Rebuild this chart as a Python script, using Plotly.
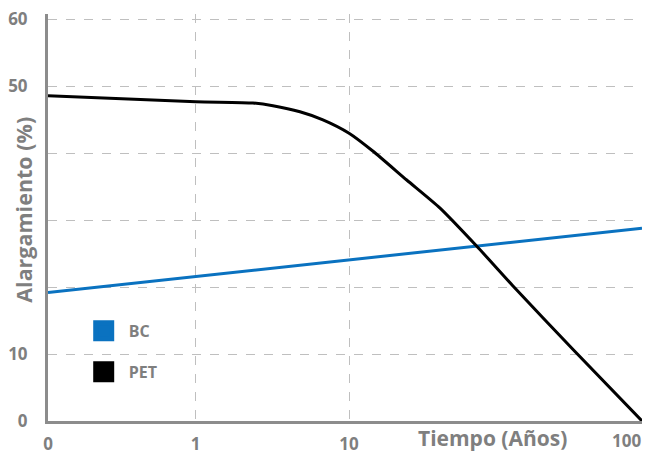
import plotly.graph_objects as go

# x positions on the chart's own (uneven) time scale; labels below
tick_pos = [0, 0.983, 2.005, 3.955]
tick_labels = ["0", "1", "10", ""]
label_100_pos = 3.851
x_max = 3.956

bc_x = [0, 0.983, 2.005, 3.956]
bc_y = [19.2, 21.6, 24.1, 28.8]

pet_x = [0, 0.985, 1.365, 1.498, 1.678, 1.831, 2.005, 2.165, 2.389, 2.611, 2.856, 3.1, 3.5, 3.956]
pet_y = [48.6, 47.7, 47.5, 47.1, 46.2, 45.0, 43.0, 40.3, 36.0, 31.8, 26.1, 20.1, 10.6, 0]

y_ticks = [0, 10, 20, 30, 40, 50, 60]
y_labels = ["0", "10", "", "", "", "50", "60"]

BLUE = "#0a72c0"
GRAY_TXT = "#7f7f7f"
AXIS = "#8c8c8c"
GRID = "#bfbfbf"
FONT = "Open Sans"

fig = go.Figure()
fig.add_trace(go.Scatter(x=bc_x, y=bc_y, mode="lines", line=dict(color=BLUE, width=3),
                         showlegend=False, hoverinfo="skip"))
fig.add_trace(go.Scatter(x=pet_x, y=pet_y, mode="lines", line=dict(color="black", width=3, shape="spline", smoothing=0.6),
                         showlegend=False, hoverinfo="skip"))
# legend entries
fig.add_trace(go.Scatter(x=[None], y=[None], mode="markers", name="BC", legendgroup="a",
                         marker=dict(symbol="square", size=16, color=BLUE, line=dict(color=BLUE, width=5))))
fig.add_trace(go.Scatter(x=[None], y=[None], mode="markers", name="PET", legendgroup="b",
                         marker=dict(symbol="square", size=16, color="black", line=dict(color="black", width=5))))

fig.update_layout(
    width=645, height=455,
    margin=dict(l=48, r=3, t=14, b=34),
    paper_bgcolor="white", plot_bgcolor="white",
    font=dict(family=FONT, color=GRAY_TXT, size=17, weight=700),
    legend=dict(x=0.0517, y=0.263, xanchor="left", yanchor="top", bgcolor="rgba(0,0,0,0)",
                font=dict(size=16, color=GRAY_TXT, family=FONT, weight=700),
                traceorder="grouped", tracegroupgap=17, itemsizing="trace", itemwidth=40),
    xaxis=dict(range=[0, x_max], tickmode="array", tickvals=tick_pos, ticktext=tick_labels,
               showgrid=True, gridcolor=GRID, griddash="dash", gridwidth=1, zeroline=False,
               showline=True, linecolor=AXIS, linewidth=3, ticks="", ticklabelstandoff=6,
               automargin=False,
               tickfont=dict(size=17, color=GRAY_TXT, family=FONT, weight=700)),
    yaxis=dict(range=[0, 60.8], tickmode="array", tickvals=y_ticks, ticktext=y_labels,
               showgrid=True, gridcolor=GRID, griddash="dash", gridwidth=1, zeroline=False,
               showline=True, linecolor=AXIS, linewidth=3, ticks="", ticklabelstandoff=14,
               automargin=False,
               tickfont=dict(size=17, color=GRAY_TXT, family=FONT, weight=700)),
    annotations=[
        dict(text="100", x=label_100_pos, xref="x", y=0, yref="paper", xanchor="center", yanchor="bottom",
             yshift=-33, showarrow=False, font=dict(size=17, color=GRAY_TXT, family=FONT, weight=700)),
        dict(text="Tiempo (Años)", x=2.958, xref="x", y=0, yref="paper", xanchor="center", yanchor="bottom",
             yshift=-33, showarrow=False, font=dict(size=21, color=GRAY_TXT, family=FONT, weight=700)),
        dict(text="Alargamiento (%)", x=-0.0404, xref="paper", y=0.519, yref="paper", textangle=-90,
             xanchor="center", yanchor="middle", showarrow=False,
             font=dict(size=21.5, color=GRAY_TXT, family=FONT, weight=700)),
    ],
)

fig.write_html("out.html", config={"displayModeBar": False})

# remove the page's default body margin so the figure sits at the window's corner
with open("out.html", "r", encoding="utf-8") as f:
    html = f.read()
html = html.replace("<head>", "<head><style>html,body{margin:0;padding:0;overflow:hidden;}</style>", 1)
with open("out.html", "w", encoding="utf-8") as f:
    f.write(html)
